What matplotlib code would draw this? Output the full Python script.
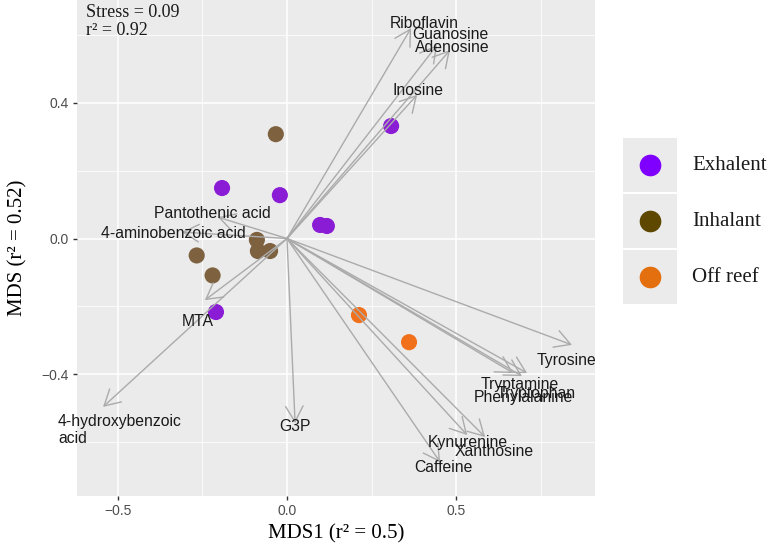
import matplotlib
matplotlib.use('Agg')
import matplotlib.pyplot as plt
from matplotlib.patches import Rectangle

# ---- data ----
groups = ['Exhalent', 'Inhalant', 'Off reef']
exh_x = [0.308, -0.192, -0.021, 0.098, 0.118, -0.210]
exh_y = [0.332, 0.149, 0.128, 0.040, 0.037, -0.217]
inh_x = [-0.033, -0.267, -0.220, -0.089, -0.086, -0.050]
inh_y = [0.308, -0.050, -0.109, -0.004, -0.037, -0.037]
off_x = [0.213, 0.361]
off_y = [-0.226, -0.306]

metabolites = ['Riboflavin', 'Guanosine', 'Adenosine', 'Inosine', 'Tyrosine',
               'Tryptamine', 'Tryptophan', 'Phenylalanine', 'Kynurenine',
               'Xanthosine', 'Caffeine', 'G3P', '4-hydroxybenzoic\nacid', 'MTA',
               'Pantothenic acid', '4-aminobenzoic acid']
arrow_x = [0.367, 0.444, 0.482, 0.385, 0.843, 0.669, 0.710, 0.695, 0.533,
           0.586, 0.453, 0.024, -0.544, -0.243, -0.204, -0.311]
arrow_y = [0.621, 0.571, 0.556, 0.424, -0.314, -0.397, -0.397, -0.406, -0.580,
           -0.586, -0.660, -0.545, -0.497, -0.182, 0.063, 0.019]
label_x = [0.405, 0.482, 0.488, 0.388, 0.828, 0.689, 0.737, 0.698, 0.536,
           0.612, 0.462, 0.024, -0.494, -0.263, -0.222, -0.337]
label_y = [0.636, 0.601, 0.565, 0.438, -0.359, -0.432, -0.456, -0.468, -0.601,
           -0.630, -0.677, -0.556, -0.565, -0.244, 0.075, 0.016]

x_ticks = [-0.5, 0.0, 0.5]
x_ticklabels = ['\u22120.5', '0.0', '0.5']
y_ticks = [-0.4, 0.0, 0.4]
y_ticklabels = ['\u22120.4', '0.0', '0.4']
x_minor = [-0.25, 0.25, 0.75]
y_minor = [-0.6, -0.2, 0.2, 0.6]

point_colors = ['#8A1CD6', '#7E6240', '#F0701C']
legend_colors = ['#8000FF', '#5E4800', '#E36F0E']

SANS = ['Liberation Sans', 'DejaVu Sans']
SERIF = ['Liberation Serif', 'DejaVu Serif']

fig = plt.figure(figsize=(7.68, 5.52), dpi=100)
W, H = 768, 552
ax = fig.add_axes([77 / W, (H - 496) / H, (595 - 77) / W, 496 / H])
ax.set_facecolor('#EBEBEB')
for s in ax.spines.values():
    s.set_visible(False)
ax.set_xlim(-0.621, 0.911)
ax.set_ylim(-0.760, 0.704)

ax.set_xticks(x_ticks)
ax.set_xticklabels(x_ticklabels, fontfamily=SANS, fontsize=10, color='#4D4D4D')
ax.set_yticks(y_ticks)
ax.set_yticklabels(y_ticklabels, fontfamily=SANS, fontsize=10, color='#4D4D4D')
ax.set_xticks(x_minor, minor=True)
ax.set_yticks(y_minor, minor=True)
ax.tick_params(which='major', length=3, width=1, color='#333333', pad=3)
ax.tick_params(which='minor', length=0)
ax.grid(which='major', color='white', lw=1.1, zorder=0)
ax.grid(which='minor', color='white', lw=0.55, zorder=0)
ax.set_axisbelow(True)

# points
for xs, ys, c in zip([exh_x, inh_x, off_x], [exh_y, inh_y, off_y], point_colors):
    ax.scatter(xs, ys, s=135, color=c, edgecolors='none', zorder=2)

# arrows
for tx, ty in zip(arrow_x, arrow_y):
    ax.annotate('', xy=(tx, ty), xytext=(0, 0),
                arrowprops=dict(arrowstyle='->, head_length=0.8, head_width=0.45',
                                color='#ABABAB', lw=1.0, shrinkA=0, shrinkB=0,
                                mutation_scale=14),
                zorder=3)

# labels
for name, lx, ly in zip(metabolites, label_x, label_y):
    ax.text(lx, ly, name, ha='center', va='center', multialignment='left',
            fontfamily=SANS, fontsize=11.3, color='#1A1A1A', zorder=4,
            linespacing=1.15)

ax.text(0.017, 0.992, 'Stress = 0.09\nr\u00b2 = 0.92', transform=ax.transAxes,
        ha='left', va='top', fontfamily=SERIF, fontsize=13, color='#1A1A1A',
        linespacing=1.1)

ax.set_xlabel('MDS1 (r\u00b2 = 0.5)', fontfamily=SERIF, fontsize=15,
              color='black', labelpad=4)
ax.set_ylabel('MDS (r\u00b2 = 0.52)', fontfamily=SERIF, fontsize=15,
              color='black', labelpad=10)

# legend drawn manually in a pixel-coordinate axes
lax = fig.add_axes([0, 0, 1, 1], facecolor='none')
lax.set_xlim(0, W)
lax.set_ylim(H, 0)
lax.axis('off')
key_left, key_top, key_size, key_gap = 623, 138, 54, 2
for i, (g, c) in enumerate(zip(groups, legend_colors)):
    top = key_top + i * (key_size + key_gap)
    lax.add_patch(Rectangle((key_left, top), key_size, key_size,
                            facecolor='#EBEBEB', edgecolor='none'))
    lax.plot([key_left + key_size / 2], [top + key_size / 2], 'o',
             markersize=15.6, color=c, markeredgewidth=0)
    lax.text(692, top + key_size / 2, g, ha='left', va='center',
             fontfamily=SERIF, fontsize=15, color='#1A1A1A')

fig.savefig('out.png', dpi=100)
